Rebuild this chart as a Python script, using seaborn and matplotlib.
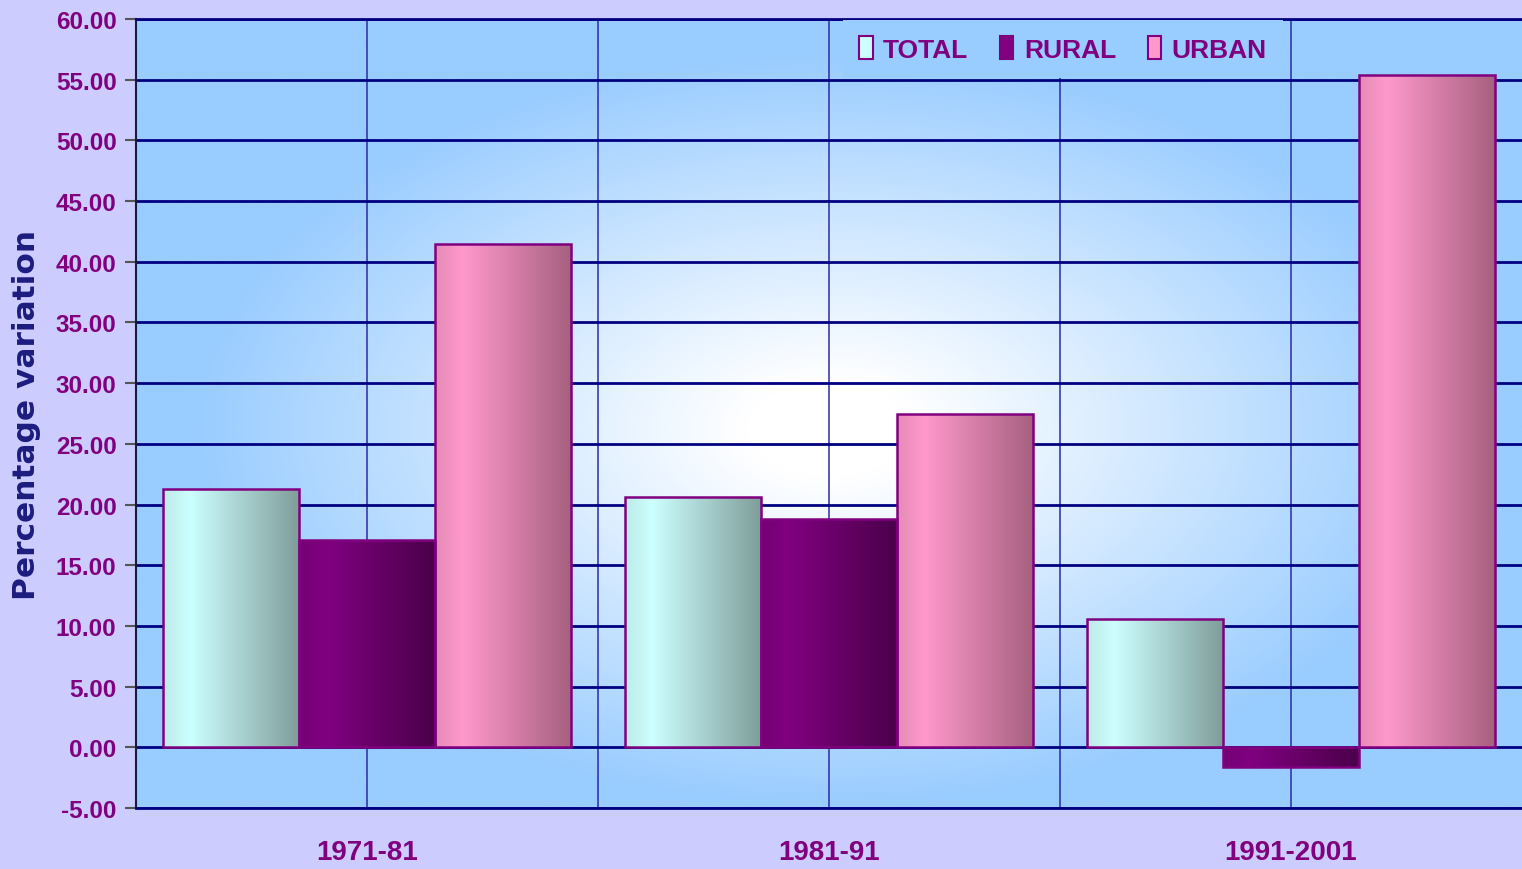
import numpy as np
import pandas as pd
import matplotlib.pyplot as plt
from matplotlib.colors import to_rgb
from matplotlib.patches import Patch
import seaborn as sns

# values
periods = ['1971-81', '1981-91', '1991-2001']
series = ['TOTAL', 'RURAL', 'URBAN']
total = [21.3, 20.6, 10.6]
rural = [17.1, 18.8, -1.6]
urban = [41.5, 27.5, 55.4]
yticks = list(range(-5, 61, 5))

# (left, peak, right) shades of each cylinder-like bar
shades = {
    'TOTAL': ('#bdebe7', '#ccffff', '#7f9d9a'),
    'RURAL': ('#740074', '#800080', '#4a004a'),
    'URBAN': ('#e58bb6', '#ff99cc', '#a6607f'),
}

df = pd.DataFrame({
    'period': periods * 3,
    'series': [s for s in series for _ in periods],
    'value': total + rural + urban,
})

sns.set_style('white')
plt.rcParams['font.family'] = ['Liberation Sans', 'DejaVu Sans']
plt.rcParams['font.weight'] = 'bold'

purple = '#800080'
navy = '#000080'

fig = plt.figure(figsize=(15.22, 8.70), dpi=100, facecolor='#ccccff')
ax = fig.add_axes([136 / 1522, 61 / 870, 1386 / 1522, 789 / 870])

# radial background of the plot area
gx, gy = np.meshgrid(np.linspace(0, 1, 400), np.linspace(0, 1, 300))
r = np.sqrt(((gx - 0.5) / 0.5) ** 2 + ((gy - 0.48) / 0.52) ** 2)
b = np.clip((r - 0.12) / 0.8, 0, 1)[..., None]
bg = (1 - b) * np.array([1.0, 1.0, 1.0]) + b * np.array(to_rgb('#99ccff'))
ax.imshow(bg, extent=[0, 1, 0, 1], transform=ax.transAxes, origin='lower',
          aspect='auto', zorder=0.1, interpolation='bilinear')

sns.barplot(data=df, x='period', y='value', hue='series', hue_order=series,
            palette=[shades[s][1] for s in series], width=0.885, gap=0,
            legend=False, ax=ax, zorder=2)

# gradient fill inside each bar
xs = np.linspace(0, 1, 200)
for cont, name in zip(ax.containers, series):
    lft, pk, rgt = [np.array(to_rgb(c)) for c in shades[name]]
    cols = np.where(xs[:, None] < 0.2,
                    lft + (pk - lft) * (xs[:, None] / 0.2),
                    pk + (rgt - pk) * ((xs[:, None] - 0.2) / 0.8))
    grad = cols[None, :, :]
    for bar in cont:
        x0, y0 = bar.get_x(), bar.get_y()
        w, h = bar.get_width(), bar.get_height()
        im = ax.imshow(grad, extent=[x0, x0 + w, y0, y0 + h], aspect='auto',
                       zorder=1.9, interpolation='bilinear')
        im.set_clip_path(bar)
        bar.set_facecolor('none')
        bar.set_edgecolor(purple)
        bar.set_linewidth(1.8)
        bar.set_zorder(2)

ax.set_xlim(-0.5, 2.5)
ax.set_ylim(-5, 60)
ax.set_yticks(yticks)
ax.set_yticklabels([f'{v:.2f}' for v in yticks])
ax.set_xticks([0.5, 1.5], minor=True)

ax.set_axisbelow(True)
ax.grid(axis='y', color=navy, linewidth=2, zorder=0.5)
ax.grid(axis='x', which='both', color='#2b2baa', linewidth=1.1, zorder=0.5)

ax.tick_params(axis='y', length=8, width=1.5, color='#555555', pad=6,
               labelsize=17.5, labelcolor=purple, left=True)
ax.tick_params(axis='x', which='both', length=0, pad=22, labelsize=20,
               labelcolor=purple)

for side in ['top', 'bottom']:
    ax.spines[side].set_color(navy)
    ax.spines[side].set_linewidth(2)
ax.spines['left'].set_color('#1a1a40')
ax.spines['left'].set_linewidth(1.5)
ax.spines['right'].set_visible(False)

ax.set_xlabel('')
ax.set_ylabel('')
fig.text(26.5 / 1522, (870 - 415) / 870, 'Percentage variation', rotation=90,
         ha='center', va='center', fontsize=22.5, color='#1c1c80',
         family='DejaVu Sans', fontweight='bold')

handles = [Patch(facecolor=shades[s][1], edgecolor=purple, linewidth=1.5)
           for s in series]
leg = ax.legend(handles, series, ncol=3, loc='upper right',
                bbox_to_anchor=((1283 - 136) / 1386, 0.999), borderaxespad=0,
                frameon=True, fancybox=False, handlelength=0.5,
                handleheight=0.95, handletextpad=0.4, columnspacing=1.2,
                borderpad=0.62, prop={'size': 19, 'weight': 'bold'})
leg.get_frame().set_facecolor('#99ccff')
leg.get_frame().set_edgecolor('none')
leg.get_frame().set_alpha(1)
for t in leg.get_texts():
    t.set_color(purple)

fig.savefig('out.png', dpi=100, facecolor=fig.get_facecolor())
